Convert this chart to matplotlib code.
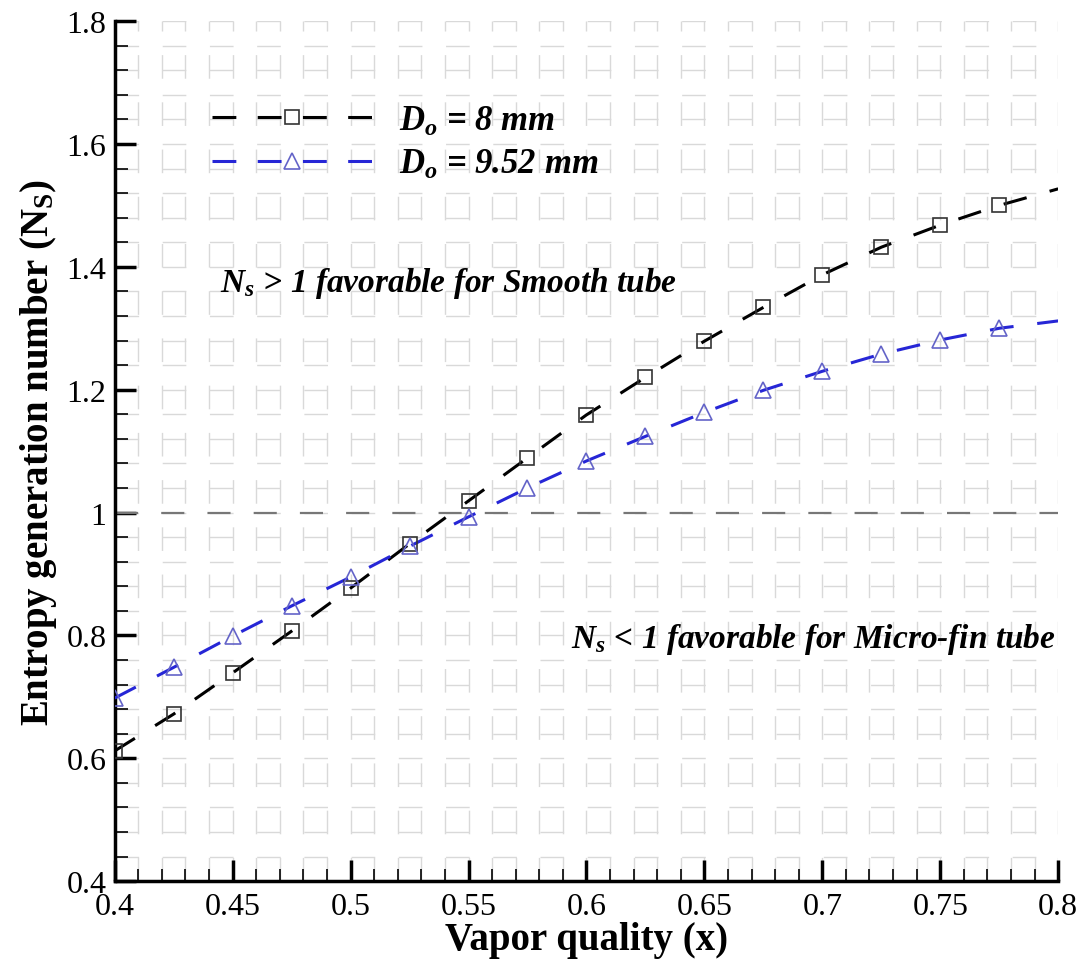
import numpy as np
import matplotlib
matplotlib.use('Agg')
import matplotlib.pyplot as plt
from matplotlib.ticker import MultipleLocator, FuncFormatter

# data
x_pts = [0.4, 0.425, 0.45, 0.475, 0.5, 0.525, 0.55, 0.575, 0.6, 0.625,
         0.65, 0.675, 0.7, 0.725, 0.75, 0.775]
ns_8 = [0.612, 0.672, 0.739, 0.807, 0.877, 0.949, 1.019, 1.089, 1.159, 1.220,
        1.279, 1.334, 1.387, 1.432, 1.468, 1.500]
ns_952 = [0.698, 0.748, 0.799, 0.848, 0.895, 0.945, 0.993, 1.040, 1.084, 1.124,
          1.163, 1.199, 1.230, 1.258, 1.281, 1.300]
# the fitted curves run on to x = 0.8
x_end = 0.8
ns_8_end = 1.527
ns_952_end = 1.312

labels = [r'$D_o$ = 8 mm', r'$D_o$ = 9.52 mm']

plt.rcParams['font.family'] = 'Liberation Serif'
plt.rcParams['mathtext.fontset'] = 'custom'
plt.rcParams['mathtext.rm'] = 'Liberation Serif:weight=bold'
plt.rcParams['mathtext.it'] = 'Liberation Serif:style=italic:weight=bold'
plt.rcParams['mathtext.bf'] = 'Liberation Serif:weight=bold'

fig = plt.figure(figsize=(10.82, 9.62), dpi=100)
ax = fig.add_axes([0.106, 0.083, 0.872, 0.894])

dash = (0, (7.8, 7.8))
ax.plot(x_pts + [x_end], ns_8 + [ns_8_end], color='black', lw=2.2, linestyle=dash, zorder=3)
ax.plot(x_pts + [x_end], ns_952 + [ns_952_end], color='#2626d6', lw=2.2, linestyle=dash, zorder=3)
ax.plot(x_pts, ns_8, linestyle='none', marker='s', ms=10.5, mfc='none', mec='#333333', mew=1.2, zorder=4)
ax.plot(x_pts, ns_952, linestyle='none', marker='^', ms=11.5, mfc='none', mec='#6464c8', mew=1.2, zorder=4)

# legend handles (line + marker in the middle)
h1, = ax.plot([], [], color='black', lw=2.2, linestyle=(0, (7.8, 7.0)), marker='s', ms=10,
              mfc='none', mec='#333333', mew=1.2)
h2, = ax.plot([], [], color='#2626d6', lw=2.2, linestyle=(0, (7.8, 7.0)), marker='^', ms=11,
              mfc='none', mec='#6464c8', mew=1.2)
leg = ax.legend([h1, h2], labels, loc='upper left', bbox_to_anchor=(0.103, 0.903),
                frameon=False, numpoints=1, handlelength=4.6, handletextpad=0.8,
                labelspacing=0.3, borderaxespad=0, borderpad=0,
                prop={'size': 25, 'weight': 'bold', 'style': 'italic'})

ax.axhline(1.0, color='#777777', lw=1.6, linestyle=(0, (10.4, 10.4)), zorder=2)

ax.text(0.4445, 1.375, r'$N_s$ > 1 favorable for Smooth tube', fontsize=24,
        fontweight='bold', style='italic', va='center', ha='left')
ax.text(0.5935, 0.795, r'$N_s$ < 1 favorable for Micro-fin tube', fontsize=24,
        fontweight='bold', style='italic', va='center', ha='left')

ax.set_xlim(0.4, 0.8)
ax.set_ylim(0.4, 1.8)
ax.xaxis.set_major_locator(MultipleLocator(0.05))
ax.xaxis.set_minor_locator(MultipleLocator(0.01))
ax.yaxis.set_major_locator(MultipleLocator(0.2))
ax.yaxis.set_minor_locator(MultipleLocator(0.04))
fmt = FuncFormatter(lambda v, p: '%g' % round(v, 3))
ax.xaxis.set_major_formatter(fmt)
ax.yaxis.set_major_formatter(fmt)

ax.grid(which='both', color='#d9d9d9', lw=1.0, linestyle=(0, (17, 17)), zorder=0)
ax.set_axisbelow(True)

for s in ['top', 'right']:
    ax.spines[s].set_visible(False)
for s in ['left', 'bottom']:
    ax.spines[s].set_linewidth(2.5)

ax.tick_params(which='major', direction='in', length=15, width=2.5, labelsize=23, pad=8)
ax.tick_params(which='minor', direction='in', length=9, width=1.2)
ax.tick_params(axis='y', which='major', pad=6)

ax.set_xlabel('Vapor quality (x)', fontsize=28, fontweight='bold', labelpad=0)
ax.set_ylabel(r'Entropy generation number ($\mathrm{N_S}$)', fontsize=28,
              fontweight='bold', labelpad=5)

fig.savefig('out.png', dpi=100)
